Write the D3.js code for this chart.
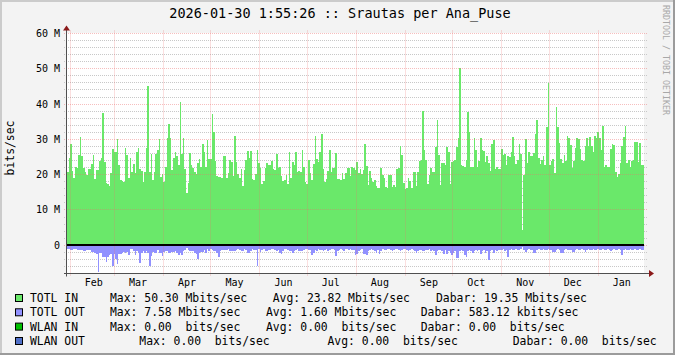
<!DOCTYPE html>
<html><head><meta charset="utf-8">
<script src="https://cdn.jsdelivr.net/npm/d3@7"></script>
<style>
html,body{margin:0;padding:0;background:#f3f3f3;}
text{font-family:"DejaVu Sans Mono",monospace;white-space:pre;}
</style></head>
<body>
<svg id="chart" width="675" height="355"></svg>
<script>
// ---------- data ----------
const title = "2026-01-30 1:55:26 :: Srautas per Ana_Puse";
const yLabel = "bits/sec";
const watermark = "RRDTOOL / TOBI OETIKER";
const startTime = new Date(2025, 0, 30, 1, 55, 26);
const endTime = new Date(2026, 0, 30, 1, 55, 26);
const monthLabels = ["Feb","Mar","Apr","May","Jun","Jul","Aug","Sep","Oct","Nov","Dec","Jan"];
const yTickValues = [0, 10, 20, 30, 40, 50, 60];
const yTickLabels = ["0", "10 M", "20 M", "30 M", "40 M", "50 M", "60 M"];

// TOTL IN (Mbits/sec), evenly spaced over the year
const inValues = [
20.8,24.8,28.7,21.0,19.0,22.3,21.8,25.6,30.6,25.3,
21.8,20.8,19.9,21.6,21.6,22.9,25.6,18.8,21.3,21.3,
24.0,24.6,37.5,23.5,17.7,17.3,16.8,20.5,27.2,26.5,
26.3,30.2,22.7,18.6,18.3,17.8,27.5,25.6,19.2,24.6,
20.8,22.9,20.4,26.5,27.7,21.6,21.0,18.0,20.8,27.5,
45.1,20.7,26.0,18.5,20.8,26.0,27.0,30.0,19.4,20.1,
17.8,22.3,30.3,34.3,30.3,21.3,24.6,26.5,25.3,22.7,
40.6,26.0,30.3,21.6,14.9,17.7,26.1,22.7,22.0,20.8,
20.3,23.2,24.4,22.1,28.7,26.5,22.3,29.7,
24.4,24.4,37.2,32.1,24.0,19.7,19.4,19.4,19.0,25.3,
25.3,19.2,20.6,24.2,23.7,19.7,30.9,23.6,20.1,19.2,
21.7,16.8,21.4,24.2,26.7,24.6,26.7,18.9,18.6,20.3,
27.0,23.2,21.8,17.5,18.2,22.0,23.2,22.7,22.7,23.9,
21.5,21.2,25.8,22.0,22.2,19.6,18.3,18.4,19.9,17.3,
26.5,19.2,23.5,22.7,26.4,20.8,21.0,20.8,26.9,22.2,
18.0,17.5,24.2,20.4,18.4,22.9,30.9,24.5,23.5,26.3,
31.5,21.6,17.8,18.7,21.0,27.0,20.8,21.8,21.9,26.1,
18.7,18.7,18.5,20.5,18.7,20.5,22.0,22.0,19.7,22.1,
22.0,21.3,23.6,20.6,21.6,20.3,21.3,28.7,22.5,17.1,
21.1,19.2,18.0,18.6,16.9,16.1,16.1,22.0,20.0,19.0,
16.4,16.1,20.0,19.9,16.4,17.0,16.4,21.6,21.8,28.1,
25.6,17.7,15.9,16.2,19.0,18.2,16.2,20.8,20.8,16.9,
20.8,23.9,24.2,38.0,27.1,24.1,17.5,20.0,21.8,20.8,
20.8,27.8,35.5,25.7,17.2,23.3,23.4,22.7,27.8,26.5,
17.5,23.5,23.9,24.1,27.8,30.3,50.3,22.7,22.4,22.3,
24.2,37.9,32.0,22.1,22.1,30.3,26.9,22.1,24.0,30.3,
26.9,26.7,23.7,25.4,23.3,21.0,28.7,29.9,21.6,22.3,
21.6,
21.5,27.3,25.7,25.8,22.7,25.2,25.0,26.4,30.7,25.3,
23.0,24.2,28.7,25.8,4.2,19.9,30.1,23.3,26.4,25.3,
25.3,26.1,31.5,35.4,24.6,23.1,24.3,25.2,22.8,33.5,
45.9,22.7,23.9,24.4,20.5,39.2,33.6,29.0,24.4,23.3,
25.6,23.9,30.9,30.5,28.4,22.0,23.9,27.5,30.3,30.1,
27.2,24.2,23.9,28.1,30.3,28.0,30.7,28.0,26.5,30.9,
30.4,32.2,30.4,27.1,33.7,22.1,22.7,22.1,22.1,27.3,
28.7,28.4,20.8,19.4,20.2,23.3,28.0,30.7,33.8,23.4,
24.1,22.1,23.9,24.1,29.2,29.2,23.7,29.1,22.7,22.7
];

// TOTL OUT (Mbits/sec, drawn below zero)
const outValues = [
1.1,1.0,1.3,1.4,1.1,1.1,1.4,1.4,1.2,1.2,
1.5,1.6,1.2,1.2,1.3,1.8,1.8,2.1,2.6,7.58,
2.1,2.1,3.4,3.4,4.8,3.2,2.7,2.5,5.8,2.4,
3.9,5.2,2.5,2.4,2.3,1.8,2.1,1.8,2.7,1.1,
1.1,1.6,2.7,1.6,2.1,4.9,2.1,1.6,2.1,1.5,
2.1,5.8,3.0,1.8,2.1,2.1,1.4,2.1,2.1,3.0,
1.8,1.5,1.5,2.1,2.1,1.8,1.8,1.5,2.1,2.7,
2.1,2.7,1.6,1.3,0.9,1.4,1.5,1.5,1.5,2.1,
2.4,4.0,2.1,1.8,1.8,1.4,2.1,1.1,
1.5,1.1,1.3,1.5,1.5,2.1,3.2,1.6,1.3,1.3,
1.3,1.3,1.1,1.5,1.5,1.6,1.6,1.3,1.1,1.3,
1.5,1.5,1.1,1.3,2.1,2.1,1.5,1.1,1.3,1.3,
5.8,1.1,1.8,1.3,1.1,1.5,1.5,1.3,1.3,1.1,
1.1,1.3,1.5,1.3,2.1,2.5,1.5,1.1,1.1,1.3,
1.6,1.5,2.1,1.5,1.3,1.1,1.5,1.6,1.6,1.3,
1.1,1.1,1.3,1.3,2.8,2.1,1.3,1.5,1.1,1.3,
1.3,1.6,1.3,1.1,1.6,1.3,1.1,1.1,1.3,2.9,
1.6,1.3,1.1,1.3,1.5,1.1,1.1,1.3,1.1,1.3,
1.3,2.7,2.5,1.5,1.3,1.1,2.5,2.6,2.7,1.5,
1.3,1.1,1.3,1.5,2.1,1.3,2.5,1.5,1.1,1.3,
1.3,1.1,1.1,1.3,1.5,1.3,1.1,1.1,1.3,1.6,
1.3,1.1,1.1,1.3,1.5,1.3,1.1,1.3,1.5,2.1,
1.6,1.3,1.3,1.5,1.6,1.3,1.3,1.1,1.5,1.3,
1.5,2.7,1.6,1.3,1.3,1.5,2.5,1.3,2.5,1.5,
2.1,2.7,2.1,1.6,3.7,3.5,1.6,1.3,1.5,2.7,
3.4,1.6,1.3,1.5,2.3,1.5,1.3,1.5,1.3,2.5,
1.5,1.3,2.1,1.5,4.2,1.5,1.3,2.1,1.3,1.5,1.3,
1.2,1.3,1.1,1.6,1.2,3.2,1.3,1.1,1.4,1.2,
1.1,1.3,1.2,1.1,0.5,1.3,1.8,1.2,1.1,1.3,
1.2,2.1,2.1,1.3,1.1,1.2,1.3,1.1,1.2,1.3,
1.1,1.3,1.2,1.8,1.8,1.2,1.1,1.3,2.1,2.1,
1.2,1.1,1.3,1.2,1.3,1.9,1.9,1.2,1.1,1.3,
1.2,1.1,1.3,1.8,1.2,1.1,1.3,1.2,1.1,1.3,
1.2,1.1,1.3,1.2,1.1,1.3,1.2,1.1,1.3,1.5,
1.2,1.1,1.3,1.2,1.1,1.3,2.7,1.2,1.1,1.3,
1.2,1.1,1.3,1.2,1.1,1.3,1.2,1.1,1.3,1.2
];

const legendNames = ["TOTL IN", "TOTL OUT", "WLAN IN", "WLAN OUT"];
const legendColors = ["#6ae86a", "#9191ff", "#00c000", "#5070c8"];
const legendMax = ["Max: 50.30 Mbits/sec", "Max: 7.58 Mbits/sec", "Max: 0.00  bits/sec", "Max: 0.00  bits/sec"];
const legendAvg = ["Avg: 23.82 Mbits/sec", "Avg: 1.60 Mbits/sec", "Avg: 0.00  bits/sec", "Avg: 0.00  bits/sec"];
const legendNow = ["Dabar: 19.35 Mbits/sec", "Dabar: 583.12 kbits/sec", "Dabar: 0.00  bits/sec", "Dabar: 0.00  bits/sec"];

// ---------- layout ----------
const W = 675, H = 355;
const L = 67, R = 644, T = 33.5, B = 273.5;
const svg = d3.select("#chart");

// frame
svg.append("rect").attr("width", W).attr("height", H).attr("fill", "#f3f3f3");
svg.append("path").attr("d", `M0,0H${W}V2H2V${H}H0Z`).attr("fill", "#cbcbcb");
svg.append("path").attr("d", `M${W},${H}H0V${H-2}H${W-2}V0H${W}Z`).attr("fill", "#9b9b9b");

const x = d3.scaleTime().domain([startTime, endTime]).range([L, R]);
const y = d3.scaleLinear().domain([-8, 60]).range([B, T]);

svg.append("rect").attr("x", L).attr("y", T - 0.5).attr("width", R - L).attr("height", B - T + 0.5).attr("fill", "#fff");

const N = inValues.length;
const step = (endTime - startTime) / N;
const tAt = i => new Date(+startTime + i * step);
const px = i => Math.round(x(tAt(i)));
const y0 = Math.round(y(0));
const crisp = v => Math.floor(v) + 0.5;
const minorTicks = d3.range(-8, 61, 2).filter(v => v % 10 !== 0);
const monthStarts = d3.timeMonth.range(d3.timeMonth.ceil(startTime), endTime);

// minor grid
svg.append("g").selectAll("line").data(minorTicks).join("line")
  .attr("x1", L - 3).attr("x2", R + 3)
  .attr("y1", d => crisp(y(d))).attr("y2", d => crisp(y(d)))
  .attr("stroke", "#c8c8c8").attr("stroke-dasharray", "1,1");

// bars snapped to whole pixels (rrdtool draws per pixel column)
svg.append("g").attr("shape-rendering", "crispEdges").selectAll("rect").data(inValues).join("rect")
  .attr("x", (d, i) => px(i)).attr("width", (d, i) => px(i + 1) - px(i))
  .attr("y", d => Math.round(y(d))).attr("height", d => y0 - Math.round(y(d)))
  .attr("fill", legendColors[0]);
svg.append("g").attr("shape-rendering", "crispEdges").selectAll("rect").data(outValues).join("rect")
  .attr("x", (d, i) => px(i)).attr("width", (d, i) => px(i + 1) - px(i))
  .attr("y", y0).attr("height", d => Math.round(y(-d)) - y0)
  .attr("fill", legendColors[1]);

// major grid over the data
const g = svg.append("g");
g.selectAll("line.major").data(yTickValues).join("line")
  .attr("x1", L - 3).attr("x2", R + 3)
  .attr("y1", d => crisp(y(d))).attr("y2", d => crisp(y(d)))
  .attr("stroke", "rgba(235,110,110,0.45)").attr("stroke-dasharray", "1,1");
g.selectAll("line.vmonth").data(monthStarts).join("line")
  .attr("x1", d => crisp(x(d))).attr("x2", d => crisp(x(d)))
  .attr("y1", T - 3).attr("y2", B + 3)
  .attr("stroke", "rgba(235,110,110,0.45)").attr("stroke-dasharray", "1,1");

// zero line
svg.append("line").attr("x1", L).attr("x2", R).attr("y1", y0).attr("y2", y0)
  .attr("stroke", "#000").attr("stroke-width", 2);

// axes
svg.append("line").attr("x1", L - 0.5).attr("x2", L - 0.5).attr("y1", B + 3).attr("y2", T - 5)
  .attr("stroke", "#505050");
svg.append("line").attr("x1", L - 3).attr("x2", R + 6).attr("y1", B).attr("y2", B)
  .attr("stroke", "#505050");
svg.append("path").attr("d", `M${L-4},${T-3}L${L-0.5},${T-8}L${L+3},${T-3}Z`).attr("fill", "#8b1a1a");
svg.append("path").attr("d", `M${R+5},${B-3.5}L${R+10},${B}L${R+5},${B+3.5}Z`).attr("fill", "#8b1a1a");

// y tick labels
svg.selectAll("text.ytl").data(yTickValues).join("text")
  .attr("x", L - 7).attr("y", d => y(d)).attr("dy", "0.35em")
  .attr("text-anchor", "end").attr("font-size", "10px").attr("fill", "#000")
  .text((d, i) => yTickLabels[i]);

// month labels (centered half a month after month start)
svg.selectAll("text.mtl").data(monthStarts).join("text")
  .attr("x", d => x(d3.timeDay.offset(d, 15))).attr("y", B + 12)
  .attr("text-anchor", "middle").attr("font-size", "10px").attr("fill", "#000")
  .text((d, i) => monthLabels[i]);

// y axis title
svg.append("text").attr("transform", "translate(10,148) rotate(-90)")
  .attr("text-anchor", "middle").attr("dominant-baseline", "central")
  .attr("font-size", "11.4px").attr("fill", "#000").text(yLabel);

// title
svg.append("text").attr("x", 340).attr("y", 18).attr("text-anchor", "middle")
  .attr("font-size", "13.5px").attr("fill", "#000").text(title);

// watermark
svg.append("text").attr("transform", "translate(663,5) rotate(90)")
  .attr("font-size", "8.3px").attr("fill", "#a8a8a8").text(watermark);

// legend
const lineY = [302, 316.3, 330.6, 345];
const maxX = [110, 110, 110, 139.3];
const avgX = [272.7, 266, 266, 327.5];
const nowX = [436, 420.7, 420.7, 512.7];
const lg = svg.append("g").attr("font-size", "11.4px").attr("fill", "#000");
legendNames.forEach((name, i) => {
  lg.append("rect").attr("x", 15.5).attr("y", lineY[i] - 7.5).attr("width", 7).attr("height", 7)
    .attr("fill", legendColors[i]).attr("stroke", "#000").attr("stroke-width", 1);
  lg.append("text").attr("x", 30).attr("y", lineY[i]).text(name);
  lg.append("text").attr("x", maxX[i]).attr("y", lineY[i]).text(legendMax[i]);
  lg.append("text").attr("x", avgX[i]).attr("y", lineY[i]).text(legendAvg[i]);
  lg.append("text").attr("x", nowX[i]).attr("y", lineY[i]).text(legendNow[i]);
});
</script>
</body></html>
